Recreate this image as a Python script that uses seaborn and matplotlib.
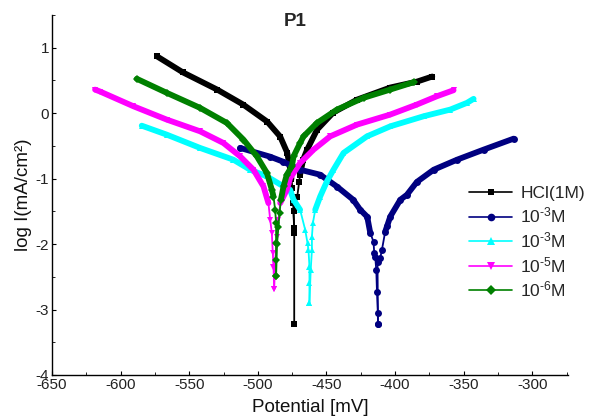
import matplotlib
matplotlib.use("Agg")
import matplotlib.pyplot as plt
from matplotlib.lines import Line2D
from matplotlib.ticker import MultipleLocator
import numpy as np
import pandas as pd
import seaborn as sns

# Tafel polarisation data: potential (mV) and log current density (mA/cm2),
# cathodic branch down to the corrosion potential, then anodic branch.
hcl_cat_pot = [-573.4, -554.5, -529.7, -510.7, -493.2, -483.7, -478.6, -476.4,
               -475.5, -474.8, -474.3, -473.5, -473.5]
hcl_cat_log = [0.867, 0.622, 0.361, 0.132, -0.129, -0.358, -0.603, -0.864,
               -1.00, -1.15, -1.369, -1.752, -3.222]
hcl_ano_pot = [-473.5, -474.0, -471.3, -469.9, -469.2, -467.0, -464.1, -456.8,
               -445.1, -427.6, -403.5, -383.8, -372.9]
hcl_ano_log = [-1.829, -1.50, -1.277, -1.047, -0.940, -0.710, -0.557, -0.251,
               0.009, 0.208, 0.392, 0.484, 0.560]

c3a_cat_pot = [-512.9, -491.0, -481.6, -469.2, -454.6, -442.2, -430.5, -425.4,
               -420.3, -418.1, -415.7, -415.2, -414.5, -413.7, -413.2, -412.5,
               -412.5]
c3a_cat_log = [-0.531, -0.665, -0.741, -0.864, -0.940, -1.124, -1.323, -1.476,
               -1.583, -1.828, -1.965, -2.140, -2.190, -2.395, -2.727, -3.058,
               -3.227]
c3a_ano_pot = [-412.5, -412.8, -410.8, -409.6, -407.2, -405.9, -403.5, -396.2,
               -391.4, -384.1, -371.9, -354.9, -335.5, -313.6]
c3a_ano_log = [-3.227, -2.268, -2.210, -2.089, -1.810, -1.730, -1.579, -1.323,
               -1.247, -1.050, -0.864, -0.711, -0.557, -0.389]

c3b_cat_pot = [-584.6, -566.4, -542.1, -517.8, -505.6, -493.4, -481.3, -476.5,
               -474.0, -469.2, -465.5, -463.8, -463.1, -462.4, -462.4, -462.4]
c3b_cat_log = [-0.191, -0.328, -0.531, -0.711, -0.864, -0.966, -1.119, -1.170,
               -1.323, -1.476, -1.783, -1.986, -2.089, -2.345, -2.599, -2.896]
c3b_ano_pot = [-462.4, -461.5, -460.6, -460.6, -459.9, -458.2, -454.6, -449.7,
               -444.9, -437.6, -420.5, -403.5, -379.2, -359.8, -347.6, -342.8]
c3b_ano_log = [-2.896, -2.400, -2.089, -1.885, -1.680, -1.476, -1.273, -1.043,
               -0.864, -0.608, -0.354, -0.201, -0.047, 0.055, 0.158, 0.219]

c5_cat_pot = [-618.6, -615.0, -590.7, -566.4, -542.1, -525.1, -512.9, -503.2,
              -495.9, -492.3, -491.0, -489.8, -489.1, -488.6, -488.1]
c5_cat_log = [0.360, 0.331, 0.106, -0.098, -0.277, -0.455, -0.660, -0.864,
              -1.119, -1.374, -1.630, -1.834, -2.139, -2.345, -2.690]
c5_ano_pot = [-488.1, -487.5, -486.2, -485.0, -483.7, -478.9, -476.5, -474.0,
              -469.2, -459.4, -447.3, -427.8, -403.5, -384.1, -369.5, -357.4]
c5_ano_log = [-2.690, -2.300, -1.885, -1.630, -1.374, -1.170, -0.991, -0.914,
              -0.761, -0.557, -0.354, -0.175, -0.021, 0.132, 0.259, 0.351]

c6_cat_pot = [-588.2, -566.4, -542.1, -522.6, -510.5, -500.7, -493.4, -489.8,
              -488.6, -487.4, -486.7, -486.7, -486.7, -486.7]
c6_cat_log = [0.525, 0.311, 0.081, -0.149, -0.404, -0.660, -0.914, -1.170,
              -1.273, -1.476, -1.680, -1.986, -2.242, -2.487]
c6_ano_pot = [-486.7, -486.0, -485.0, -484.2, -483.2, -481.3, -478.9, -475.2,
              -474.0, -469.2, -466.7, -456.9, -442.4, -423.0, -403.5, -386.5]
c6_ano_log = [-2.487, -2.000, -1.732, -1.527, -1.323, -1.119, -0.940, -0.813,
              -0.660, -0.455, -0.354, -0.149, 0.055, 0.234, 0.361, 0.473]

series_labels = ["HCl(1M)", r"$\mathregular{10^{\text{-3}}}$M", r"$\mathregular{10^{\text{-3}}}$M",
                 r"$\mathregular{10^{\text{-5}}}$M", r"$\mathregular{10^{\text{-6}}}$M"]

x_ticks = [-650, -600, -550, -500, -450, -400, -350, -300]
y_ticks = [-4, -3, -2, -1, 0, 1]

series = [
    (hcl_cat_pot, hcl_cat_log, hcl_ano_pot, hcl_ano_log),
    (c3a_cat_pot, c3a_cat_log, c3a_ano_pot, c3a_ano_log),
    (c3b_cat_pot, c3b_cat_log, c3b_ano_pot, c3b_ano_log),
    (c5_cat_pot, c5_cat_log, c5_ano_pot, c5_ano_log),
    (c6_cat_pot, c6_cat_log, c6_ano_pot, c6_ano_log),
]

# styling
colors = ["#000000", "#000080", "#00FFFF", "#FF00FF", "#008000"]
markers = ["s", "o", "^", "v", "D"]
marker_sizes = [4.5, 5.0, 5.0, 5.0, 4.2]
dense_above = [-1.0, -1.85, -1.55, -1.4, -1.35]   # where the scan points merge into a thick band

sns.set_theme(style="white")
plt.rcParams["font.family"] = ["Liberation Sans", "DejaVu Sans"]
plt.rcParams["mathtext.fontset"] = "custom"
plt.rcParams["mathtext.rm"] = "Liberation Sans"
plt.rcParams["mathtext.it"] = "Liberation Sans:italic"
plt.rcParams["mathtext.bf"] = "Liberation Sans:bold"

fig = plt.figure(figsize=(5.98, 4.17), dpi=100)
ax = fig.add_axes([52 / 598, 1 - 375 / 417, (568 - 52) / 598, (375 - 15) / 417])

for (cp, cl, ap, al), col, mk, ms, cut in zip(series, colors, markers, marker_sizes, dense_above):
    df = pd.DataFrame({
        "pot": list(cp) + list(ap),
        "logi": list(cl) + list(al),
        "branch": ["cat"] * len(cp) + ["ano"] * len(ap),
    })
    sns.lineplot(data=df, x="pot", y="logi", units="branch", estimator=None,
                 sort=False, color=col, lw=1.3, marker=mk, markersize=ms,
                 markeredgewidth=0, legend=False, ax=ax)
    dense = df[df["logi"] >= cut]
    line_kw = dict(solid_capstyle="round", solid_joinstyle="round")
    sns.lineplot(data=dense, x="pot", y="logi", units="branch", estimator=None,
                 sort=False, color=col, lw=4.2, legend=False, ax=ax, **line_kw)

ax.set_xlim(-650, -274)
ax.set_ylim(-4, 1.5)
ax.set_xticks(x_ticks)
ax.set_yticks(y_ticks)
ax.set_xticklabels([str(v) for v in x_ticks])
ax.set_yticklabels([str(v) for v in y_ticks])
ax.xaxis.set_minor_locator(MultipleLocator(25))
ax.yaxis.set_minor_locator(MultipleLocator(0.5))
ax.tick_params(which="major", direction="in", length=3, width=0.8, color="black",
               labelsize=11, pad=2, bottom=True, left=True, labelcolor="#222222")
ax.tick_params(which="minor", direction="in", length=2, width=0.6, color="black",
               bottom=True, left=True)

for side in ["top", "right"]:
    ax.spines[side].set_visible(False)
for side in ["left", "bottom"]:
    ax.spines[side].set_color("black")
    ax.spines[side].set_linewidth(1.0)

ax.set_xlabel("Potential [mV]", fontsize=13.5, color="#111111", labelpad=5)
ax.set_ylabel("log I(mA/cm²)", fontsize=13.5, color="#111111", labelpad=3)
fig.text(295 / 598, 1 - 21 / 417, "P1", fontsize=13.5, fontweight="bold",
         ha="center", va="center")

handles = [Line2D([0], [0], color=c, lw=1.2, marker=m, markersize=s + 0.5,
                  markeredgewidth=0) for c, m, s in zip(colors, markers, marker_sizes)]
ax.legend(handles, series_labels, loc="upper left",
          bbox_to_anchor=(469 / 598, 1 - 186 / 417), bbox_transform=fig.transFigure,
          frameon=False, fontsize=12.5, handlelength=2.5, handletextpad=0.45,
          labelspacing=0.27, borderpad=0, borderaxespad=0)

fig.savefig("out.png", dpi=100)
